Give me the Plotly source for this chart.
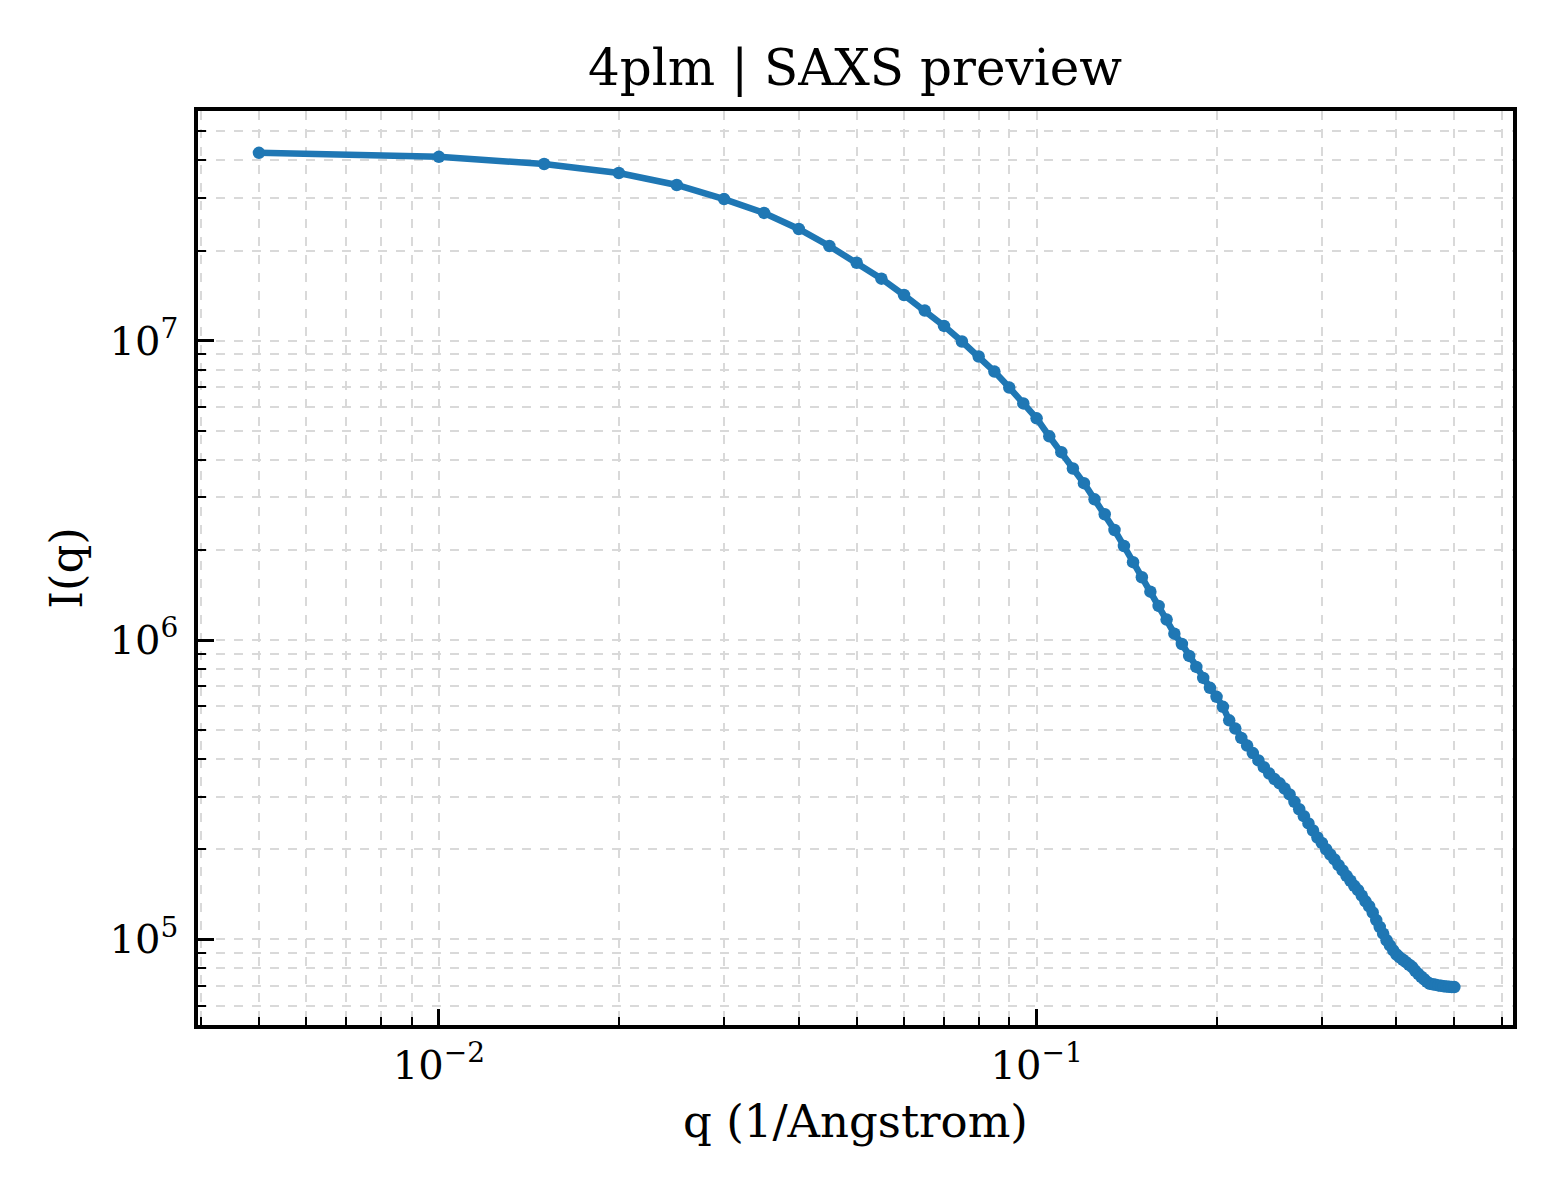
import plotly.graph_objects as go

# SAXS profile for 4plm
q = [
    0.005, 0.010, 0.015, 0.020, 0.025, 0.030, 0.035, 0.040, 0.045, 0.050,
    0.055, 0.060, 0.065, 0.070, 0.075, 0.080, 0.085, 0.090, 0.095, 0.100,
    0.105, 0.110, 0.115, 0.120, 0.125, 0.130, 0.135, 0.140, 0.145, 0.150,
    0.155, 0.160, 0.165, 0.170, 0.175, 0.180, 0.185, 0.190, 0.195, 0.200,
    0.205, 0.210, 0.215, 0.220, 0.225, 0.230, 0.235, 0.240, 0.245, 0.250,
    0.255, 0.260, 0.265, 0.270, 0.275, 0.280, 0.285, 0.290, 0.295, 0.300,
    0.305, 0.310, 0.315, 0.320, 0.325, 0.330, 0.335, 0.340, 0.345, 0.350,
    0.355, 0.360, 0.365, 0.370, 0.375, 0.380, 0.385, 0.390, 0.395, 0.400,
    0.405, 0.410, 0.415, 0.420, 0.425, 0.430, 0.435, 0.440, 0.445, 0.450,
    0.455, 0.460, 0.465, 0.470, 0.475, 0.480, 0.485, 0.490, 0.495, 0.500,
]
intensity = [
    4.24e7, 4.11e7, 3.89e7, 3.63e7, 3.31e7, 2.97e7, 2.67e7, 2.36e7, 2.07e7, 1.82e7,
    1.61e7, 1.42e7, 1.26e7, 1.12e7, 9.93e6, 8.85e6, 7.88e6, 6.97e6, 6.17e6, 5.50e6,
    4.79e6, 4.24e6, 3.74e6, 3.34e6, 2.95e6, 2.63e6, 2.33e6, 2.06e6, 1.82e6, 1.62e6,
    1.45e6, 1.30e6, 1.17e6, 1.05e6, 9.70e5, 8.85e5, 8.13e5, 7.47e5, 6.92e5, 6.46e5,
    5.98e5, 5.39e5, 5.06e5, 4.71e5, 4.44e5, 4.19e5, 3.96e5, 3.76e5, 3.58e5, 3.43e5,
    3.32e5, 3.19e5, 3.05e5, 2.88e5, 2.72e5, 2.58e5, 2.44e5, 2.31e5, 2.19e5, 2.10e5,
    2.00e5, 1.92e5, 1.85e5, 1.77e5, 1.70e5, 1.63e5, 1.57e5, 1.51e5, 1.46e5, 1.40e5,
    1.34e5, 1.29e5, 1.23e5, 1.16e5, 1.10e5, 1.045e5, 9.93e4, 9.55e4, 9.19e4, 8.90e4,
    8.71e4, 8.55e4, 8.39e4, 8.23e4, 8.08e4, 7.85e4, 7.67e4, 7.50e4, 7.36e4, 7.21e4,
    7.11e4, 7.08e4, 7.05e4, 7.02e4, 7.00e4, 6.97e4, 6.96e4, 6.94e4, 6.93e4, 6.93e4,
]

x_major = [1e-2, 1e-1]
x_major_text = ["10<sup>\u22122</sup>", "10<sup>\u22121</sup>"]
x_minor = [4e-3, 5e-3, 6e-3, 7e-3, 8e-3, 9e-3,
           2e-2, 3e-2, 4e-2, 5e-2, 6e-2, 7e-2, 8e-2, 9e-2,
           2e-1, 3e-1, 4e-1, 5e-1, 6e-1]
y_major = [1e5, 1e6, 1e7]
y_major_text = ["10<sup>5</sup>", "10<sup>6</sup>", "10<sup>7</sup>"]
y_minor = [6e4, 7e4, 8e4, 9e4,
           2e5, 3e5, 4e5, 5e5, 6e5, 7e5, 8e5, 9e5,
           2e6, 3e6, 4e6, 5e6, 6e6, 7e6, 8e6, 9e6,
           2e7, 3e7, 4e7, 5e7]

SERIF = "DejaVu Serif"
GRID = "#d9d9d9"

fig = go.Figure()
fig.add_trace(go.Scatter(
    x=q, y=intensity,
    mode="lines+markers",
    line=dict(color="#1f77b4", width=6.5),
    marker=dict(color="#1f77b4", size=12.5),
    showlegend=False,
))

axis_common = dict(
    type="log",
    showline=True, linecolor="black", linewidth=3.5, mirror=True,
    ticks="inside", ticklen=16, tickwidth=3, tickcolor="black",
    showgrid=True, gridcolor=GRID, gridwidth=1.5, griddash="dash",
    zeroline=False,
    tickfont=dict(family=SERIF, size=40, color="black"),
    tickmode="array",
)

fig.update_layout(
    width=1560, height=1200,
    paper_bgcolor="white", plot_bgcolor="white",
    margin=dict(l=190, r=55, t=103, b=183),
    font=dict(family=SERIF, color="black"),
    title=dict(text="4plm | SAXS preview", x=0.543, xanchor="center",
               y=1 - 59 / 1200, yanchor="middle",
               font=dict(family=SERIF, size=50, color="black")),
    xaxis=dict(
        axis_common,
        range=[-2.403, -0.203],
        tickvals=x_major, ticktext=x_major_text,
        ticklabelstandoff=2,
        title=dict(text="q (1/Angstrom)", font=dict(family=SERIF, size=45, color="black"),
                   standoff=20),
        minor=dict(tickmode="array", tickvals=x_minor, ticks="inside", ticklen=8,
                   tickwidth=2, tickcolor="black", showgrid=True, gridcolor=GRID,
                   gridwidth=1.5, griddash="dash"),
    ),
    yaxis=dict(
        axis_common,
        range=[4.714, 7.767],
        tickvals=y_major, ticktext=y_major_text,
        ticklabelstandoff=8,
        title=dict(text="I(q)", font=dict(family=SERIF, size=45, color="black"),
                   standoff=14),
        minor=dict(tickmode="array", tickvals=y_minor, ticks="inside", ticklen=8,
                   tickwidth=2, tickcolor="black", showgrid=True, gridcolor=GRID,
                   gridwidth=1.5, griddash="dash"),
    ),
)

fig.write_html("out.html")
